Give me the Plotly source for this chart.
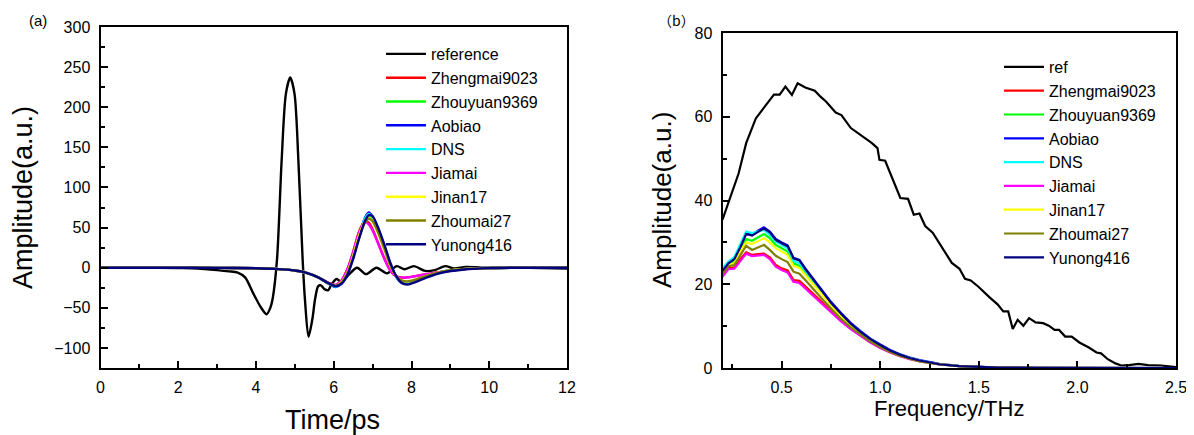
import plotly.graph_objects as go

# ---------------- (a) time domain ----------------
t_ref = [0, 1, 2, 2.5, 3.0, 3.3, 3.53, 3.72, 3.92, 4.12, 4.27, 4.36, 4.43, 4.54, 4.66, 4.77, 4.88,
         4.99, 5.09, 5.2, 5.26, 5.35, 5.45, 5.52, 5.6, 5.67, 5.77, 5.86, 5.94, 6.07, 6.2, 6.4,
         6.6, 6.83, 7.1, 7.37, 7.62, 7.82, 8.06, 8.35, 8.6, 8.87, 9.1, 9.4, 9.8, 10.5, 11, 12]
a_ref = [0, 0, -0.5, -1, -3, -4.5, -6, -12, -31, -49, -58, -51, -38, 10, 134, 217, 237,
         217, 134, 10, -40, -86, -64, -39, -23, -22, -27, -28, -21, -14, -18, -8,
         0, -8, 0, -7, 2, -2, 2, -4, -3, 2, -1, 1, 0, 0.5, 0, -1]

t_s = [0, 2, 3, 4, 4.5, 5.0, 5.3, 5.6, 5.85, 6.05, 6.2, 6.35, 6.5, 6.65, 6.8, 6.9, 7.0,
       7.15, 7.3, 7.45, 7.6, 7.75, 7.9, 8.1, 8.4, 8.8, 9.3, 10, 11, 12]
a_zhengmai = [0, 0, -0.2, -0.6, -1.5, -3.5, -6.5, -12, -18.5, -21.5, -16, -2, 20, 45, 58, 56, 48,
              30, 12, -3, -10.5, -12.5, -12, -10.5, -8, -5, -2, -0.5, 0.5, 0.5]
a_zhouyuan = [0, 0, -0.2, -0.6, -1.5, -3.5, -6.5, -12, -19, -23, -19, -7, 14, 40, 59, 64, 60,
              44, 25, 4, -11, -18, -19, -16, -10.5, -5, -2, -0.5, 0, 0]
a_aobiao = [0, 0, -0.2, -0.6, -1.5, -3.5, -6.5, -12, -19.5, -24, -20, -8, 13, 39, 62, 69, 64,
            47, 27, 5, -11, -19, -20, -17, -11, -5, -2, -0.5, 0, 0]
a_dns = [0, 0, -0.2, -0.6, -1.5, -3.5, -6.5, -12, -19.5, -23.5, -19.5, -7.5, 13, 39, 61, 67, 63,
         46, 26, 5, -11, -18.5, -19.5, -17, -11, -5, -2, -0.5, 0, 0]
a_jiamai = [0, 0, -0.2, -0.6, -1.5, -3.5, -6.5, -12, -18.5, -21.5, -16, -2, 19, 44, 57, 54, 46,
            29, 11, -3.5, -10.5, -12.5, -12, -10.5, -8, -5, -2, -0.5, 0, 0]
a_jinan = [0, 0, -0.2, -0.6, -1.5, -3.5, -6.5, -12, -19, -22.5, -18, -6, 15, 40, 58, 62, 58,
           42, 23, 3, -10, -16, -17, -15, -10, -5, -2, -0.5, 0, 0]
a_zhoumai = [0, 0, -0.2, -0.6, -1.5, -3.5, -6.5, -12, -19, -22.5, -18.5, -7, 13, 37, 56, 61, 58,
             43, 24, 4, -10, -16, -17, -15, -10, -5, -2, -0.5, 0, 0]
a_yunong = [0, 0, -0.2, -0.6, -1.5, -3.5, -6.5, -12, -19, -23, -20, -9, 11, 36, 58, 65.5, 64,
            49, 29, 7, -10, -19, -21, -18, -12, -6, -2.5, -0.5, 0, 0]

# ---------------- (b) frequency domain ----------------
f_ref = [0.2, 0.234, 0.282, 0.32, 0.369, 0.417, 0.461, 0.49, 0.519, 0.552, 0.581, 0.62, 0.668,
         0.697, 0.726, 0.774, 0.803, 0.851, 0.9, 0.958, 0.986, 0.996, 1.025, 1.064, 1.102, 1.141,
         1.17, 1.199, 1.228, 1.266, 1.315, 1.363, 1.402, 1.43, 1.459, 1.498, 1.556, 1.595, 1.624,
         1.649, 1.672, 1.697, 1.726, 1.755, 1.788, 1.826, 1.855, 1.884, 1.907, 1.938, 1.971, 2.01,
         2.058, 2.097, 2.12, 2.154, 2.193, 2.222, 2.261, 2.31, 2.358, 2.425, 2.5]
m_ref = [35.4, 40.2, 46.5, 53.7, 59.6, 62.6, 65.3, 65.3, 67.2, 65.2, 68.0, 67.0, 66.2,
         64.8, 63.6, 61.0, 60.4, 57.3, 55.7, 53.7, 52.5, 49.7, 49.5, 45.0, 40.6, 40.4,
         36.6, 36.9, 33.9, 32.3, 28.7, 25.1, 23.7, 21.3, 20.9, 19.4, 16.8, 15.2, 13.5,
         13.5, 9.3, 11.5, 10.1, 11.9, 10.9, 10.7, 10.1, 9.1, 9.1, 7.5, 7.5, 6.1,
         4.9, 3.7, 3.5, 2.1, 1.1, 0.6, 0.7, 1.0, 0.7, 0.6, 0.2]

f_s = [0.2, 0.23, 0.26, 0.29, 0.32, 0.35, 0.38, 0.41, 0.44, 0.47, 0.50, 0.53, 0.56, 0.59, 0.62,
       0.66, 0.70, 0.75, 0.80, 0.85, 0.90, 0.95, 1.0, 1.05, 1.1, 1.15, 1.2, 1.25, 1.3, 1.4, 1.5,
       1.6, 1.8, 2.0, 2.2, 2.5]
m_zhengmai = [22.3, 24.0, 24.0, 26.0, 27.6, 27.0, 27.2, 27.3, 26.4, 24.6, 23.8, 23.3, 21.0, 20.8, 19.5,
              17.8, 15.9, 13.6, 11.5, 9.5, 7.8, 6.2, 4.9, 3.8, 2.9, 2.2, 1.7, 1.3, 0.9, 0.45, 0.22,
              0.1, 0.04, 0.02, 0.01, 0.0]
m_zhouyuan = [23.0, 24.8, 25.5, 28.2, 30.8, 30.4, 31.2, 32.0, 31.0, 29.4, 28.6, 27.8, 25.0, 24.4, 22.7,
              20.4, 18.0, 15.1, 12.6, 10.3, 8.4, 6.7, 5.3, 4.1, 3.1, 2.3, 1.7, 1.3, 0.9, 0.45, 0.22,
              0.1, 0.04, 0.02, 0.01, 0.0]
m_aobiao = [23.5, 25.2, 26.2, 29.0, 32.3, 31.8, 32.8, 33.6, 32.6, 30.8, 30.0, 29.3, 26.3, 25.8, 23.8,
            21.3, 18.8, 15.8, 13.2, 10.8, 8.8, 7.0, 5.6, 4.3, 3.3, 2.5, 1.9, 1.4, 1.0, 0.5, 0.25,
            0.12, 0.05, 0.02, 0.01, 0.0]
m_dns = [23.8, 25.4, 26.5, 29.4, 32.6, 32.2, 32.6, 33.0, 31.8, 30.2, 29.4, 28.6, 25.6, 25.0, 23.2,
         20.8, 18.4, 15.4, 12.8, 10.5, 8.5, 6.8, 5.4, 4.1, 3.2, 2.4, 1.8, 1.3, 0.9, 0.45, 0.22,
         0.1, 0.04, 0.02, 0.01, 0.0]
m_jiamai = [21.8, 23.6, 23.7, 25.6, 27.3, 26.7, 26.9, 27.0, 26.0, 24.2, 23.4, 22.8, 20.6, 20.3, 19.0,
            17.3, 15.5, 13.3, 11.2, 9.3, 7.6, 6.1, 4.8, 3.7, 2.8, 2.1, 1.6, 1.2, 0.85, 0.42, 0.2,
            0.1, 0.04, 0.02, 0.01, 0.0]
m_jinan = [22.8, 24.6, 25.0, 27.8, 30.0, 29.6, 30.3, 31.0, 30.0, 28.6, 27.8, 27.0, 24.4, 23.9, 22.2,
           20.0, 17.6, 14.8, 12.3, 10.1, 8.2, 6.6, 5.2, 4.0, 3.0, 2.3, 1.7, 1.2, 0.9, 0.45, 0.22,
           0.1, 0.04, 0.02, 0.01, 0.0]
m_zhoumai = [22.5, 24.3, 24.6, 27.0, 29.2, 28.2, 28.8, 29.4, 28.2, 26.8, 26.0, 25.3, 23.0, 22.5, 21.0,
             19.0, 16.8, 14.2, 11.8, 9.7, 7.9, 6.3, 5.0, 3.8, 2.9, 2.2, 1.6, 1.2, 0.85, 0.42, 0.2,
             0.1, 0.04, 0.02, 0.01, 0.0]
m_yunong = [23.2, 25.0, 26.0, 28.8, 32.0, 31.6, 32.5, 33.3, 32.4, 30.6, 29.8, 29.1, 26.2, 25.7, 23.6,
            21.1, 18.6, 15.6, 13.0, 10.6, 8.6, 6.9, 5.5, 4.2, 3.2, 2.4, 1.8, 1.3, 0.9, 0.45, 0.22,
            0.1, 0.04, 0.02, 0.01, 0.0]

names = ["Zhengmai9023", "Zhouyuan9369", "Aobiao", "DNS", "Jiamai", "Jinan17", "Zhoumai27", "Yunong416"]
colors = ["#FF0000", "#00FF00", "#0000FF", "#00FFFF", "#FF00FF", "#FFFF00", "#808000", "#000080"]
time_series = [a_zhengmai, a_zhouyuan, a_aobiao, a_dns, a_jiamai, a_jinan, a_zhoumai, a_yunong]
freq_series = [m_zhengmai, m_zhouyuan, m_aobiao, m_dns, m_jiamai, m_jinan, m_zhoumai, m_yunong]

FONT = "Liberation Sans, Arial, sans-serif"
OFF = 8                      # default page body margin
W, H = 1194 - OFF, 435 - OFF

fig = go.Figure()

fig.add_trace(go.Scatter(x=t_ref, y=a_ref, name="reference", mode="lines",
                         line=dict(color="black", width=2.4, shape="spline", smoothing=0.8),
                         xaxis="x", yaxis="y", legend="legend"))
for n, c, s in zip(names, colors, time_series):
    fig.add_trace(go.Scatter(x=t_s, y=s, name=n, mode="lines",
                             line=dict(color=c, width=2.4, shape="spline", smoothing=0.8),
                             xaxis="x", yaxis="y", legend="legend"))

fig.add_trace(go.Scatter(x=f_ref, y=m_ref, name="ref", mode="lines",
                         line=dict(color="black", width=2.2),
                         xaxis="x2", yaxis="y2", legend="legend2"))
for n, c, s in zip(names, colors, freq_series):
    fig.add_trace(go.Scatter(x=f_s, y=s, name=n, mode="lines",
                             line=dict(color=c, width=2.2),
                             xaxis="x2", yaxis="y2", legend="legend2"))

def px_x(p):
    return (p - OFF) / W

def px_y(p):
    return 1 - (p - OFF) / H

axis_common = dict(showline=True, linecolor="black", linewidth=2, mirror=True,
                   ticks="inside", ticklen=7, tickwidth=2, tickcolor="black",
                   showgrid=False, zeroline=False, automargin=False,
                   ticklabeloverflow="allow",
                   tickfont=dict(family=FONT, size=16, color="black"))

fig.update_layout(
    width=W, height=H,
    margin=dict(l=0, r=0, t=0, b=0, autoexpand=False),
    paper_bgcolor="white", plot_bgcolor="white",
    font=dict(family=FONT, color="black"),
    xaxis=dict(domain=[px_x(100.5), px_x(567)], range=[0, 12], dtick=2, tick0=0,
               anchor="y", ticklabelstandoff=4,
               minor=dict(dtick=1, ticks="inside", ticklen=4, tickwidth=1.5, tickcolor="black"),
               **axis_common),
    yaxis=dict(domain=[px_y(368), px_y(27)], range=[-125, 300], dtick=50, tick0=0,
               anchor="x", ticklabelstandoff=5,
               minor=dict(dtick=25, ticks="inside", ticklen=4, tickwidth=1.5, tickcolor="black"),
               **axis_common),
    xaxis2=dict(domain=[px_x(722.5), px_x(1176)], range=[0.2, 2.5], dtick=0.5, tick0=0.5,
                anchor="y2", tickformat=".1f", ticklabelstandoff=4,
                minor=dict(dtick=0.25, tick0=0, ticks="inside", ticklen=4, tickwidth=1.5, tickcolor="black"),
                **axis_common),
    yaxis2=dict(domain=[px_y(368), px_y(33)], range=[0, 80], dtick=20, tick0=0,
                anchor="x2", ticklabelstandoff=5,
                minor=dict(dtick=10, ticks="inside", ticklen=4, tickwidth=1.5, tickcolor="black"),
                **axis_common),
    legend=dict(x=px_x(381), y=px_y(37), xanchor="left", yanchor="top",
                bgcolor="rgba(0,0,0,0)", borderwidth=0, itemwidth=40,
                font=dict(family=FONT, size=16, color="black")),
    legend2=dict(x=px_x(999), y=px_y(50), xanchor="left", yanchor="top",
                 bgcolor="rgba(0,0,0,0)", borderwidth=0, itemwidth=40,
                 font=dict(family=FONT, size=16, color="black")),
    showlegend=True,
)

annotations = [
    dict(text="(a)", x=px_x(38), y=px_y(20), font=dict(family=FONT, size=15, color="black")),
    dict(text="（b）", x=px_x(676), y=px_y(20),
         font=dict(family="Noto Sans CJK SC, " + FONT, size=14, color="black")),
    dict(text="Amplitude(a.u.)", x=px_x(23), y=px_y(198), textangle=-90,
         font=dict(family=FONT, size=27, color="black")),
    dict(text="Time/ps", x=px_x(332), y=px_y(420),
         font=dict(family=FONT, size=27, color="black")),
    dict(text="Amplitude(a.u.)", x=px_x(662), y=px_y(200), textangle=-90,
         font=dict(family=FONT, size=26, color="black")),
    dict(text="Frequency/THz", x=px_x(949), y=px_y(408),
         font=dict(family=FONT, size=22, color="black")),
]
for a in annotations:
    a.setdefault("font", dict(family=FONT, size=14, color="black"))
    a.update(xref="paper", yref="paper", showarrow=False, xanchor="center", yanchor="middle")
fig.update_layout(annotations=annotations)

fig.write_html("out.html")
